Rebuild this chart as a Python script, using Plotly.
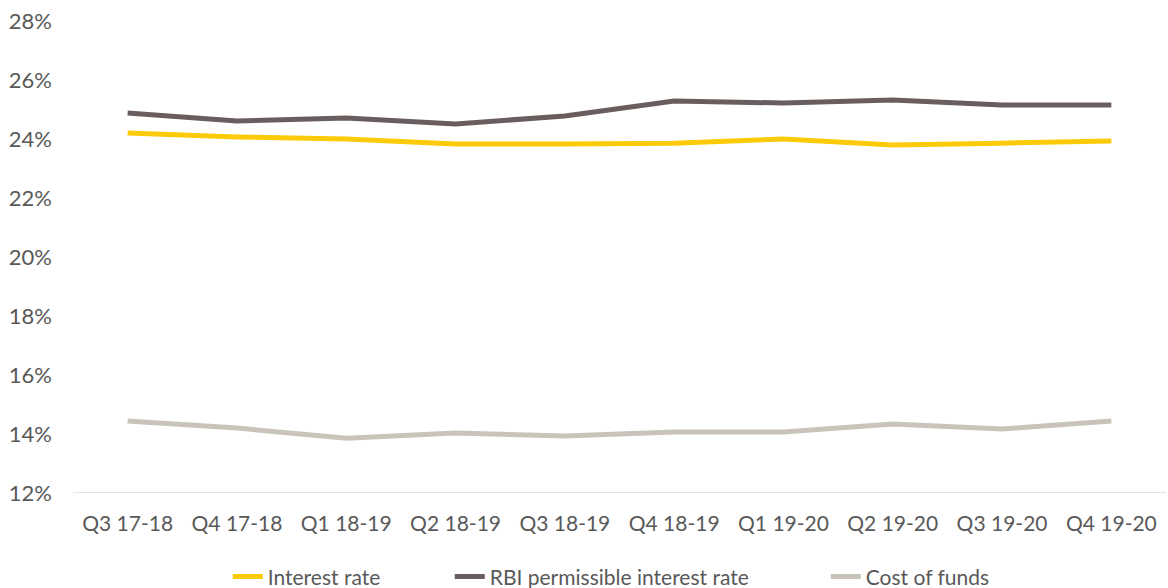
import plotly.graph_objects as go

categories = ["Q3 17-18", "Q4 17-18", "Q1 18-19", "Q2 18-19", "Q3 18-19",
              "Q4 18-19", "Q1 19-20", "Q2 19-20", "Q3 19-20", "Q4 19-20"]
interest_rate = [24.20, 24.07, 24.00, 23.83, 23.83, 23.86, 24.00, 23.80, 23.86, 23.93]
rbi_rate = [24.88, 24.61, 24.71, 24.51, 24.78, 25.29, 25.22, 25.32, 25.15, 25.15]
cost_of_funds = [14.44, 14.20, 13.86, 14.03, 13.93, 14.07, 14.07, 14.34, 14.17, 14.44]
y_ticks = [12, 14, 16, 18, 20, 22, 24, 26, 28]

font_family = "Lato, 'Open Sans', sans-serif"
fig = go.Figure()
series = [
    ("Interest rate", interest_rate, "#FBCB0A", 177),
    ("RBI permissible interest rate", rbi_rate, "#6A5D5D", 331),
    ("Cost of funds", cost_of_funds, "#C9C4BA", None),
]
for name, vals, col, lw in series:
    kw = {}
    if lw:
        kw["legendwidth"] = lw
    fig.add_trace(go.Scatter(x=categories, y=vals, name=name, mode="lines",
                             line=dict(color=col, width=5, shape="linear"),
                             hoverinfo="x+y+name", **kw))

fig.update_layout(
    width=1168, height=588,
    margin=dict(l=73, r=2, t=21, b=95),
    paper_bgcolor="white", plot_bgcolor="white",
    font=dict(family=font_family, size=21, color="#595959"),
    xaxis=dict(type="category", range=[-0.5, 9.5], showgrid=False,
               showline=False, zeroline=False, ticks="",
               ticklabelstandoff=16,
               tickfont=dict(size=21, color="#595959")),
    yaxis=dict(range=[12, 28], tickvals=y_ticks,
               ticktext=[f"{v}%" for v in y_ticks],
               showgrid=False, zeroline=False, showline=False,
               ticks="", ticklabelstandoff=20,
               tickfont=dict(size=22, color="#595959")),
    legend=dict(orientation="h", xref="container", x=0.195, xanchor="left",
                yref="container", y=0.019, yanchor="middle",
                font=dict(size=21, color="#595959"),
                tracegroupgap=0),
    showlegend=True,
)
fig.add_shape(type="line", xref="paper", yref="y", x0=0, x1=1, y0=12, y1=12,
              line=dict(color="#D9D9D9", width=1.5), layer="below")

fig.write_html("out.html")
